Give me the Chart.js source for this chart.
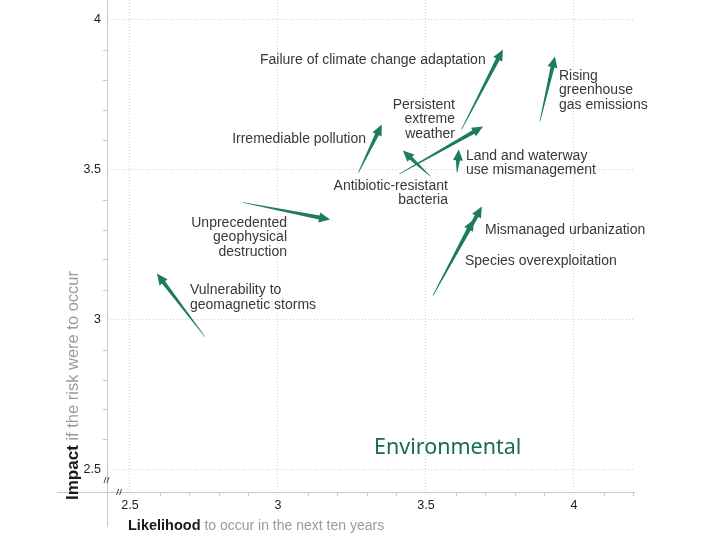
<!DOCTYPE html>
<html>
<head>
<meta charset="utf-8">
<script src="https://cdn.jsdelivr.net/npm/chart.js@4/dist/chart.umd.min.js"></script>
<style>
html,body{margin:0;padding:0;background:#fff;}
#wrap{width:720px;height:540px;position:relative;}
</style>
</head>
<body>
<div id="wrap"><canvas id="c" width="720" height="540"></canvas></div>
<script>
// ---- data ----
const risks = [
  "Failure of climate change adaptation",
  "Rising greenhouse gas emissions",
  "Persistent extreme weather",
  "Antibiotic-resistant bacteria",
  "Land and waterway use mismanagement",
  "Irremediable pollution",
  "Unprecedented geophysical destruction",
  "Vulnerability to geomagnetic storms",
  "Mismanaged urbanization",
  "Species overexploitation"
];
const likelihoodFrom = [3.620, 3.885, 3.410, 3.515, 3.605, 3.272, 2.882, 2.753, 3.554, 3.524];
const likelihoodTo   = [3.760, 3.936, 3.693, 3.422, 3.611, 3.351, 3.176, 2.591, 3.689, 3.662];
const impactFrom     = [3.633, 3.660, 3.485, 3.477, 3.490, 3.490, 3.390, 2.943, 3.133, 3.080];
const impactTo       = [3.900, 3.877, 3.643, 3.563, 3.567, 3.650, 3.333, 3.153, 3.377, 3.333];
const xTicks = [2.5, 3, 3.5, 4];
const yTicks = [2.5, 3, 3.5, 4];
const categoryTitle = "Environmental";

// ---- label layout (data-space anchors) ----
const labelLayout = [
  {lines:["Failure of climate change adaptation"], x:2.9394, y:3.865, align:"left"},
  {lines:["Rising","greenhouse","gas emissions"], x:3.9495, y:3.812, align:"left"},
  {lines:["Persistent","extreme","weather"], x:3.5982, y:3.715, align:"right"},
  {lines:["Antibiotic-resistant","bacteria"], x:3.5745, y:3.445, align:"right"},
  {lines:["Land and waterway","use mismanagement"], x:3.6353, y:3.545, align:"left"},
  {lines:["Irremediable pollution"], x:3.2975, y:3.602, align:"right"},
  {lines:["Unprecedented","geophysical","destruction"], x:3.0306, y:3.322, align:"right"},
  {lines:["Vulnerability to","geomagnetic storms"], x:2.7029, y:3.098, align:"left"},
  {lines:["Mismanaged urbanization"], x:3.6995, y:3.298, align:"left"},
  {lines:["Species overexploitation"], x:3.632, y:3.195, align:"left"}
];

const ARROW = "#1c7d59";
const TEXT = "#383838";
const AXIS = "#c9c9c9";

function zeroPad(scale){
  scale.paddingTop = 0; scale.paddingBottom = 0;
  scale.paddingLeft = 0; scale.paddingRight = 0;
}

const decorPlugin = {
  id: 'decor',
  beforeDatasetsDraw(chart){
    const ctx = chart.ctx, xs = chart.scales.x, ys = chart.scales.y, a = chart.chartArea;
    ctx.save();
    // axis lines
    ctx.strokeStyle = AXIS; ctx.lineWidth = 1;
    ctx.beginPath();
    ctx.moveTo(a.left + 0.5, a.top); ctx.lineTo(a.left + 0.5, 527);
    ctx.moveTo(57, a.bottom + 0.5); ctx.lineTo(a.right + 1, a.bottom + 0.5);
    ctx.stroke();
    // minor ticks
    ctx.beginPath();
    for (let v = 2.5; v <= 4.21; v += 0.1) {
      const r = Math.round(v*10)/10;
      if (Math.abs(r*2 - Math.round(r*2)) < 1e-6) continue;
      const px = Math.round(xs.getPixelForValue(r)) + 0.5;
      ctx.moveTo(px, a.bottom); ctx.lineTo(px, a.bottom + 4);
    }
    for (let v = 2.5; v <= 4.01; v += 0.1) {
      const r = Math.round(v*10)/10;
      if (Math.abs(r*2 - Math.round(r*2)) < 1e-6) continue;
      const py = Math.round(ys.getPixelForValue(r)) + 0.5;
      ctx.moveTo(a.left - 4, py); ctx.lineTo(a.left, py);
    }
    ctx.stroke();
    // axis break marks
    ctx.strokeStyle = "#333"; ctx.lineWidth = 0.9;
    const brk = (cx, cy) => {
      ctx.beginPath();
      ctx.moveTo(cx - 3, cy + 3); ctx.lineTo(cx - 1, cy - 3);
      ctx.moveTo(cx, cy + 3); ctx.lineTo(cx + 2, cy - 3);
      ctx.stroke();
    };
    brk(a.left, ys.getPixelForValue(2.465));
    brk(xs.getPixelForValue(2.465), a.bottom);
    // axis titles
    ctx.textBaseline = "alphabetic"; ctx.textAlign = "left";
    ctx.font = "bold 14.5px 'Liberation Sans', Arial, sans-serif";
    ctx.fillStyle = "#1a1a1a";
    const x0 = 128, yb = 530;
    ctx.fillText("Likelihood", x0, yb);
    const w1 = ctx.measureText("Likelihood").width;
    ctx.font = "14px 'Liberation Sans', Arial, sans-serif";
    ctx.fillStyle = "#9a9a9a";
    ctx.fillText(" to occur in the next ten years", x0 + w1, yb);
    ctx.translate(78, 500);
    ctx.rotate(-Math.PI/2);
    ctx.font = "bold 17px 'Liberation Sans', Arial, sans-serif";
    ctx.fillStyle = "#1a1a1a";
    ctx.fillText("Impact", 0, 0);
    const w2 = ctx.measureText("Impact").width;
    ctx.font = "16.5px 'Liberation Sans', Arial, sans-serif";
    ctx.fillStyle = "#9a9a9a";
    ctx.fillText(" if the risk were to occur", w2, 0);
    ctx.restore();
  },
  afterDatasetsDraw(chart){
    const ctx = chart.ctx, xs = chart.scales.x, ys = chart.scales.y;
    ctx.save();
    // tapered arrows from dataset element positions
    chart.data.datasets.forEach((ds, i) => {
      const meta = chart.getDatasetMeta(i);
      const p0 = meta.data[0], p1 = meta.data[1];
      const dx = p1.x - p0.x, dy = p1.y - p0.y;
      const len = Math.hypot(dx, dy);
      const ux = dx/len, uy = dy/len, nx = -uy, ny = ux;
      const headL = 11, headW = 5, shaftW = 2.0;
      const bx = p1.x - ux*headL, by = p1.y - uy*headL;
      ctx.fillStyle = ARROW;
      ctx.beginPath();
      ctx.moveTo(p0.x + nx*0.3, p0.y + ny*0.3);
      ctx.lineTo(bx + nx*shaftW, by + ny*shaftW);
      ctx.lineTo(bx + nx*headW, by + ny*headW);
      ctx.lineTo(p1.x, p1.y);
      ctx.lineTo(bx - nx*headW, by - ny*headW);
      ctx.lineTo(bx - nx*shaftW, by - ny*shaftW);
      ctx.lineTo(p0.x - nx*0.3, p0.y - ny*0.3);
      ctx.closePath();
      ctx.fill();
    });
    // risk labels
    ctx.font = "14px 'Liberation Sans', Arial, sans-serif";
    ctx.fillStyle = TEXT;
    ctx.textBaseline = "middle";
    labelLayout.forEach(l => {
      const px = xs.getPixelForValue(l.x), py = ys.getPixelForValue(l.y);
      ctx.textAlign = l.align;
      l.lines.forEach((t, k) => ctx.fillText(t, px, py + k*14.6));
    });
    // category title
    ctx.font = "21.5px 'Noto Sans', 'DejaVu Sans', sans-serif";
    ctx.fillStyle = "#186b57";
    ctx.textAlign = "left"; ctx.textBaseline = "alphabetic";
    ctx.fillText(categoryTitle, xs.getPixelForValue(3.3245), ys.getPixelForValue(2.552));
    ctx.restore();
  }
};

const datasets = risks.map((r, i) => ({
  label: r,
  data: [{x: likelihoodFrom[i], y: impactFrom[i]}, {x: likelihoodTo[i], y: impactTo[i]}],
  showLine: false,
  pointRadius: 0,
  pointHoverRadius: 0,
  borderColor: ARROW,
  backgroundColor: ARROW
}));

new Chart(document.getElementById('c'), {
  type: 'scatter',
  data: { datasets },
  options: {
    responsive: false,
    animation: false,
    devicePixelRatio: 1,
    layout: { padding: { left: 0, right: 86, top: 0, bottom: 0 } },
    plugins: { legend: { display: false }, tooltip: { enabled: false } },
    scales: {
      x: {
        type: 'linear', min: 2.4225, max: 4.203,
        afterBuildTicks(s){ s.ticks = xTicks.map(v => ({value: v})); },
        afterFit(s){ s.height = 48; zeroPad(s); },
        grid: { color: '#d2d2d2', lineWidth: 1, drawTicks: false },
        border: { display: false, dash: [1, 2] },
        ticks: { padding: 6, color: '#222', font: { family: "'Liberation Sans', Arial, sans-serif", size: 12.5 },
                 callback: v => String(v) }
      },
      y: {
        type: 'linear', min: 2.425, max: 4.065,
        afterBuildTicks(s){ s.ticks = yTicks.map(v => ({value: v})); },
        afterFit(s){ s.width = 107; zeroPad(s); },
        grid: { color: '#d2d2d2', lineWidth: 1, drawTicks: false },
        border: { display: false, dash: [1, 2] },
        ticks: { padding: 6, color: '#222', font: { family: "'Liberation Sans', Arial, sans-serif", size: 12.5 },
                 callback: v => String(v) }
      }
    }
  },
  plugins: [decorPlugin]
});
</script>
</body>
</html>
